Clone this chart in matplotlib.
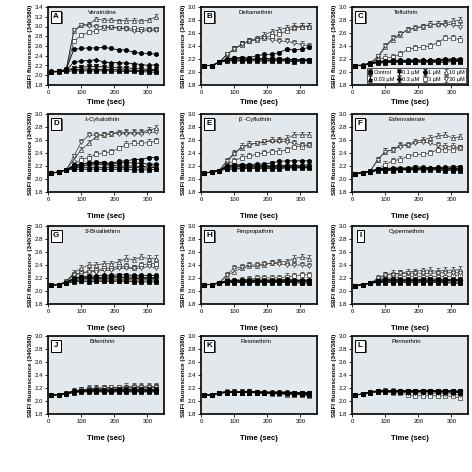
import numpy as np
import matplotlib
matplotlib.use("Agg")
from matplotlib import pyplot as plt

plt.rcParams['font.family'] = ['Liberation Sans Narrow', 'Liberation Sans', 'DejaVu Sans']

# time points (sec)
times = [10, 33, 55, 78, 100, 123, 145, 168, 191, 213, 236, 258, 281, 304, 326]

conc_labels = ["Control", "0.03 \u00b5M", "0.1 \u00b5M", "0.3 \u00b5M", "1 \u00b5M", "3 \u00b5M", "10 \u00b5M", "30 \u00b5M"]
markers = ["s", "^", "v", "D", "o", "s", "^", "v"]
filled = [True, True, True, True, True, False, False, False]

panel_letters = ["A", "B", "C", "D", "E", "F", "G", "H", "I", "J", "K", "L"]
panel_titles = ["Veratridine", "Deltamethrin", "Tefluthrin", "\u03bb-Cyhalothrin", "\u03b2 -Cyfluthrin",
                "Esfenvalerate", "$\\it{S}$-Bioallethrin", "Fenpropathrin", "Cypermethrin",
                "Bifenthrin", "Resmethrin", "Permethrin"]

# series order: Control, 0.03, 0.1, 0.3, 1, 3, 10, 30 uM
veratridine = [
    [2.06, 2.07, 2.08, 2.09, 2.09, 2.09, 2.09, 2.09, 2.09, 2.08, 2.08, 2.08, 2.07, 2.07, 2.06],
    [2.07, 2.08, 2.10, 2.12, 2.12, 2.13, 2.12, 2.12, 2.12, 2.11, 2.11, 2.10, 2.10, 2.10, 2.10],
    [2.07, 2.08, 2.10, 2.15, 2.16, 2.18, 2.18, 2.17, 2.16, 2.15, 2.15, 2.14, 2.13, 2.12, 2.12],
    [2.08, 2.08, 2.10, 2.27, 2.30, 2.30, 2.32, 2.27, 2.26, 2.26, 2.25, 2.24, 2.22, 2.20, 2.22],
    [2.08, 2.08, 2.12, 2.53, 2.55, 2.56, 2.56, 2.57, 2.55, 2.52, 2.52, 2.47, 2.45, 2.45, 2.43],
    [2.07, 2.08, 2.10, 2.70, 2.82, 2.88, 2.90, 2.97, 2.98, 2.97, 2.96, 2.96, 2.95, 2.95, 2.95],
    [2.07, 2.08, 2.12, 2.90, 3.03, 3.05, 3.15, 3.13, 3.13, 3.12, 3.12, 3.12, 3.11, 3.13, 3.20],
    [2.07, 2.08, 2.12, 2.92, 3.03, 3.02, 3.00, 3.00, 2.98, 2.97, 2.95, 2.90, 2.90, 2.92, 2.92],
]
deltamethrin = [
    [2.10, 2.10, 2.15, 2.17, 2.17, 2.17, 2.17, 2.17, 2.17, 2.17, 2.17, 2.17, 2.16, 2.17, 2.17],
    [2.10, 2.10, 2.15, 2.18, 2.18, 2.18, 2.18, 2.19, 2.18, 2.18, 2.18, 2.18, 2.18, 2.18, 2.18],
    [2.10, 2.10, 2.15, 2.19, 2.20, 2.20, 2.19, 2.20, 2.20, 2.20, 2.20, 2.19, 2.19, 2.18, 2.18],
    [2.10, 2.10, 2.15, 2.20, 2.21, 2.21, 2.20, 2.20, 2.21, 2.20, 2.20, 2.20, 2.19, 2.19, 2.19],
    [2.10, 2.10, 2.15, 2.20, 2.22, 2.22, 2.22, 2.25, 2.27, 2.27, 2.30, 2.35, 2.34, 2.35, 2.38],
    [2.10, 2.10, 2.15, 2.27, 2.35, 2.43, 2.47, 2.50, 2.53, 2.55, 2.58, 2.63, 2.67, 2.70, 2.70],
    [2.10, 2.10, 2.15, 2.27, 2.35, 2.42, 2.48, 2.52, 2.57, 2.62, 2.65, 2.68, 2.70, 2.70, 2.70],
    [2.10, 2.10, 2.15, 2.27, 2.35, 2.43, 2.48, 2.50, 2.52, 2.50, 2.48, 2.47, 2.45, 2.42, 2.40],
]
tefluthrin = [
    [2.10, 2.10, 2.13, 2.14, 2.14, 2.15, 2.15, 2.15, 2.15, 2.15, 2.15, 2.15, 2.15, 2.16, 2.16],
    [2.10, 2.10, 2.13, 2.15, 2.15, 2.16, 2.16, 2.16, 2.16, 2.17, 2.16, 2.17, 2.17, 2.17, 2.17],
    [2.10, 2.10, 2.13, 2.15, 2.16, 2.16, 2.17, 2.16, 2.17, 2.17, 2.17, 2.16, 2.18, 2.18, 2.18],
    [2.10, 2.10, 2.14, 2.16, 2.17, 2.17, 2.18, 2.17, 2.18, 2.18, 2.17, 2.18, 2.19, 2.19, 2.19],
    [2.10, 2.11, 2.14, 2.16, 2.17, 2.18, 2.18, 2.18, 2.19, 2.18, 2.18, 2.19, 2.20, 2.20, 2.20],
    [2.10, 2.10, 2.14, 2.20, 2.22, 2.23, 2.27, 2.35, 2.37, 2.38, 2.40, 2.45, 2.52, 2.52, 2.50],
    [2.10, 2.10, 2.14, 2.22, 2.38, 2.50, 2.57, 2.65, 2.67, 2.70, 2.73, 2.74, 2.75, 2.78, 2.80],
    [2.10, 2.10, 2.14, 2.24, 2.40, 2.52, 2.58, 2.65, 2.68, 2.70, 2.73, 2.73, 2.73, 2.73, 2.70],
]
cyhalothrin = [
    [2.09, 2.11, 2.14, 2.15, 2.15, 2.15, 2.15, 2.15, 2.15, 2.15, 2.15, 2.14, 2.14, 2.14, 2.15],
    [2.09, 2.11, 2.14, 2.17, 2.18, 2.18, 2.18, 2.18, 2.18, 2.18, 2.18, 2.18, 2.17, 2.17, 2.18],
    [2.09, 2.11, 2.14, 2.19, 2.20, 2.21, 2.22, 2.22, 2.21, 2.20, 2.20, 2.20, 2.19, 2.20, 2.20],
    [2.09, 2.11, 2.14, 2.20, 2.22, 2.24, 2.24, 2.25, 2.22, 2.25, 2.25, 2.25, 2.24, 2.23, 2.23],
    [2.09, 2.11, 2.14, 2.21, 2.23, 2.25, 2.26, 2.25, 2.24, 2.27, 2.28, 2.30, 2.30, 2.33, 2.33],
    [2.09, 2.11, 2.14, 2.22, 2.30, 2.33, 2.38, 2.40, 2.42, 2.47, 2.53, 2.55, 2.55, 2.56, 2.58],
    [2.09, 2.11, 2.14, 2.30, 2.45, 2.55, 2.65, 2.68, 2.70, 2.72, 2.72, 2.72, 2.72, 2.75, 2.78],
    [2.09, 2.11, 2.14, 2.35, 2.57, 2.67, 2.68, 2.68, 2.70, 2.70, 2.70, 2.70, 2.70, 2.72, 2.72],
]
cyfluthrin = [
    [2.09, 2.11, 2.13, 2.15, 2.15, 2.16, 2.16, 2.16, 2.16, 2.16, 2.16, 2.17, 2.17, 2.17, 2.17],
    [2.09, 2.11, 2.13, 2.17, 2.17, 2.17, 2.18, 2.18, 2.18, 2.18, 2.18, 2.18, 2.18, 2.18, 2.18],
    [2.09, 2.11, 2.13, 2.18, 2.19, 2.19, 2.19, 2.19, 2.19, 2.19, 2.19, 2.19, 2.19, 2.19, 2.19],
    [2.09, 2.11, 2.13, 2.20, 2.20, 2.21, 2.21, 2.20, 2.21, 2.20, 2.21, 2.21, 2.21, 2.21, 2.22],
    [2.09, 2.11, 2.13, 2.20, 2.22, 2.22, 2.22, 2.23, 2.23, 2.25, 2.27, 2.28, 2.28, 2.28, 2.28],
    [2.09, 2.11, 2.13, 2.22, 2.28, 2.33, 2.35, 2.38, 2.40, 2.42, 2.42, 2.45, 2.50, 2.50, 2.52],
    [2.09, 2.11, 2.13, 2.28, 2.40, 2.48, 2.53, 2.55, 2.57, 2.60, 2.60, 2.62, 2.68, 2.68, 2.68],
    [2.09, 2.11, 2.13, 2.27, 2.38, 2.50, 2.53, 2.55, 2.58, 2.58, 2.58, 2.57, 2.55, 2.52, 2.52],
]
esfenvalerate = [
    [2.08, 2.10, 2.11, 2.13, 2.13, 2.13, 2.14, 2.14, 2.14, 2.14, 2.14, 2.14, 2.13, 2.13, 2.13],
    [2.08, 2.10, 2.11, 2.14, 2.14, 2.14, 2.14, 2.15, 2.15, 2.15, 2.15, 2.15, 2.15, 2.15, 2.14],
    [2.08, 2.10, 2.11, 2.14, 2.15, 2.15, 2.15, 2.15, 2.16, 2.16, 2.16, 2.16, 2.16, 2.16, 2.16],
    [2.08, 2.10, 2.11, 2.15, 2.16, 2.16, 2.16, 2.16, 2.17, 2.17, 2.17, 2.17, 2.17, 2.17, 2.17],
    [2.08, 2.10, 2.12, 2.16, 2.16, 2.17, 2.17, 2.17, 2.19, 2.18, 2.17, 2.18, 2.18, 2.19, 2.19],
    [2.08, 2.10, 2.12, 2.15, 2.22, 2.28, 2.30, 2.35, 2.38, 2.38, 2.40, 2.45, 2.45, 2.45, 2.47],
    [2.08, 2.10, 2.12, 2.30, 2.42, 2.45, 2.52, 2.53, 2.58, 2.60, 2.63, 2.66, 2.68, 2.63, 2.65],
    [2.08, 2.10, 2.12, 2.30, 2.42, 2.45, 2.50, 2.52, 2.55, 2.57, 2.55, 2.52, 2.50, 2.50, 2.48],
]
bioallethrin = [
    [2.09, 2.10, 2.12, 2.14, 2.15, 2.14, 2.15, 2.15, 2.15, 2.15, 2.15, 2.14, 2.14, 2.14, 2.14],
    [2.09, 2.10, 2.13, 2.16, 2.17, 2.17, 2.17, 2.17, 2.17, 2.17, 2.17, 2.17, 2.17, 2.17, 2.17],
    [2.09, 2.10, 2.13, 2.18, 2.19, 2.19, 2.19, 2.19, 2.20, 2.20, 2.20, 2.19, 2.19, 2.19, 2.19],
    [2.09, 2.10, 2.13, 2.19, 2.21, 2.21, 2.21, 2.21, 2.22, 2.22, 2.21, 2.22, 2.21, 2.21, 2.21],
    [2.09, 2.10, 2.13, 2.20, 2.22, 2.23, 2.23, 2.24, 2.24, 2.25, 2.25, 2.24, 2.24, 2.24, 2.24],
    [2.09, 2.10, 2.15, 2.25, 2.28, 2.30, 2.32, 2.35, 2.35, 2.38, 2.38, 2.35, 2.40, 2.42, 2.42],
    [2.09, 2.10, 2.15, 2.28, 2.35, 2.40, 2.40, 2.42, 2.42, 2.45, 2.50, 2.48, 2.52, 2.50, 2.50],
    [2.09, 2.10, 2.14, 2.25, 2.27, 2.30, 2.30, 2.32, 2.32, 2.35, 2.35, 2.35, 2.35, 2.38, 2.35],
]
fenpropathrin = [
    [2.10, 2.10, 2.12, 2.13, 2.13, 2.13, 2.13, 2.13, 2.13, 2.13, 2.13, 2.13, 2.13, 2.12, 2.12],
    [2.10, 2.10, 2.12, 2.14, 2.14, 2.14, 2.14, 2.14, 2.14, 2.14, 2.15, 2.14, 2.14, 2.14, 2.14],
    [2.10, 2.10, 2.12, 2.15, 2.15, 2.15, 2.15, 2.15, 2.15, 2.15, 2.15, 2.15, 2.15, 2.15, 2.15],
    [2.10, 2.10, 2.13, 2.15, 2.16, 2.16, 2.16, 2.16, 2.16, 2.16, 2.16, 2.16, 2.16, 2.16, 2.16],
    [2.10, 2.10, 2.13, 2.16, 2.17, 2.17, 2.17, 2.17, 2.17, 2.17, 2.17, 2.18, 2.17, 2.17, 2.17],
    [2.10, 2.10, 2.13, 2.15, 2.15, 2.17, 2.18, 2.20, 2.20, 2.20, 2.20, 2.22, 2.23, 2.25, 2.25],
    [2.10, 2.10, 2.13, 2.23, 2.30, 2.35, 2.38, 2.38, 2.40, 2.43, 2.45, 2.45, 2.50, 2.52, 2.50],
    [2.10, 2.10, 2.13, 2.25, 2.35, 2.37, 2.40, 2.40, 2.42, 2.43, 2.42, 2.40, 2.40, 2.40, 2.38],
]
cypermethrin = [
    [2.08, 2.10, 2.12, 2.13, 2.13, 2.13, 2.13, 2.13, 2.13, 2.13, 2.13, 2.13, 2.13, 2.12, 2.12],
    [2.08, 2.10, 2.12, 2.14, 2.15, 2.15, 2.15, 2.15, 2.15, 2.15, 2.15, 2.15, 2.14, 2.14, 2.14],
    [2.08, 2.10, 2.12, 2.15, 2.16, 2.16, 2.16, 2.16, 2.16, 2.16, 2.16, 2.16, 2.16, 2.16, 2.16],
    [2.08, 2.10, 2.12, 2.16, 2.17, 2.17, 2.17, 2.17, 2.17, 2.17, 2.17, 2.17, 2.17, 2.17, 2.17],
    [2.08, 2.10, 2.12, 2.16, 2.18, 2.18, 2.18, 2.18, 2.18, 2.18, 2.19, 2.18, 2.18, 2.18, 2.18],
    [2.08, 2.10, 2.12, 2.17, 2.20, 2.20, 2.22, 2.22, 2.22, 2.22, 2.22, 2.22, 2.22, 2.23, 2.25],
    [2.08, 2.10, 2.12, 2.18, 2.25, 2.27, 2.27, 2.30, 2.30, 2.32, 2.32, 2.30, 2.32, 2.32, 2.33],
    [2.08, 2.10, 2.12, 2.20, 2.25, 2.25, 2.27, 2.27, 2.28, 2.27, 2.27, 2.28, 2.28, 2.28, 2.28],
]
bifenthrin = [
    [2.09, 2.10, 2.11, 2.13, 2.14, 2.14, 2.14, 2.14, 2.14, 2.14, 2.14, 2.14, 2.14, 2.14, 2.14],
    [2.09, 2.10, 2.11, 2.14, 2.15, 2.15, 2.15, 2.15, 2.15, 2.15, 2.15, 2.15, 2.15, 2.15, 2.15],
    [2.09, 2.10, 2.11, 2.14, 2.15, 2.16, 2.16, 2.16, 2.16, 2.16, 2.16, 2.16, 2.16, 2.16, 2.16],
    [2.09, 2.10, 2.11, 2.15, 2.16, 2.16, 2.17, 2.17, 2.17, 2.17, 2.17, 2.17, 2.17, 2.17, 2.17],
    [2.09, 2.10, 2.12, 2.15, 2.16, 2.17, 2.17, 2.17, 2.17, 2.18, 2.18, 2.18, 2.18, 2.18, 2.18],
    [2.09, 2.10, 2.12, 2.15, 2.16, 2.17, 2.18, 2.19, 2.19, 2.19, 2.20, 2.20, 2.20, 2.20, 2.21],
    [2.09, 2.10, 2.12, 2.16, 2.17, 2.18, 2.20, 2.20, 2.21, 2.21, 2.22, 2.22, 2.22, 2.23, 2.22],
    [2.09, 2.10, 2.12, 2.16, 2.17, 2.19, 2.19, 2.20, 2.21, 2.21, 2.20, 2.21, 2.21, 2.21, 2.21],
]
resmethrin = [
    [2.10, 2.09, 2.12, 2.13, 2.13, 2.13, 2.13, 2.13, 2.12, 2.12, 2.12, 2.12, 2.11, 2.11, 2.10],
    [2.10, 2.09, 2.12, 2.13, 2.13, 2.13, 2.13, 2.13, 2.13, 2.12, 2.12, 2.12, 2.12, 2.11, 2.11],
    [2.10, 2.09, 2.13, 2.14, 2.14, 2.14, 2.14, 2.14, 2.13, 2.13, 2.13, 2.13, 2.12, 2.12, 2.12],
    [2.10, 2.09, 2.13, 2.14, 2.14, 2.14, 2.15, 2.14, 2.14, 2.13, 2.13, 2.13, 2.13, 2.12, 2.12],
    [2.10, 2.09, 2.13, 2.14, 2.14, 2.14, 2.15, 2.14, 2.14, 2.14, 2.14, 2.14, 2.13, 2.13, 2.13],
    [2.10, 2.09, 2.13, 2.13, 2.13, 2.13, 2.13, 2.12, 2.12, 2.11, 2.11, 2.10, 2.10, 2.09, 2.08],
    [2.10, 2.09, 2.13, 2.14, 2.14, 2.14, 2.14, 2.13, 2.13, 2.12, 2.12, 2.11, 2.10, 2.10, 2.09],
    [2.10, 2.09, 2.13, 2.13, 2.13, 2.13, 2.14, 2.13, 2.12, 2.12, 2.11, 2.11, 2.10, 2.10, 2.09],
]
permethrin = [
    [2.09, 2.11, 2.13, 2.14, 2.14, 2.14, 2.14, 2.14, 2.14, 2.14, 2.14, 2.14, 2.14, 2.14, 2.13],
    [2.09, 2.11, 2.13, 2.15, 2.15, 2.15, 2.15, 2.15, 2.15, 2.15, 2.15, 2.15, 2.15, 2.14, 2.14],
    [2.09, 2.11, 2.14, 2.15, 2.15, 2.15, 2.15, 2.15, 2.15, 2.15, 2.15, 2.15, 2.15, 2.15, 2.15],
    [2.09, 2.11, 2.14, 2.15, 2.16, 2.15, 2.15, 2.16, 2.16, 2.16, 2.16, 2.15, 2.15, 2.15, 2.15],
    [2.09, 2.11, 2.14, 2.16, 2.16, 2.16, 2.16, 2.16, 2.16, 2.16, 2.16, 2.16, 2.16, 2.16, 2.15],
    [2.09, 2.11, 2.13, 2.14, 2.14, 2.13, 2.12, 2.10, 2.08, 2.08, 2.08, 2.08, 2.08, 2.07, 2.05],
    [2.09, 2.11, 2.13, 2.15, 2.15, 2.15, 2.14, 2.14, 2.14, 2.15, 2.14, 2.14, 2.13, 2.13, 2.13],
    [2.09, 2.11, 2.13, 2.15, 2.15, 2.14, 2.14, 2.13, 2.13, 2.12, 2.12, 2.12, 2.11, 2.11, 2.10],
]

# error bar size (upper) for open-symbol series, and for filled series
err_open = [0.02, 0.01, 0.02, 0.04, 0.05, 0.05, 0.05, 0.04, 0.04, 0.04, 0.05, 0.05, 0.05, 0.05, 0.05]
err_filled = [0.01, 0.01, 0.01, 0.02, 0.02, 0.02, 0.02, 0.02, 0.02, 0.02, 0.02, 0.02, 0.02, 0.02, 0.02]

panels = [veratridine, deltamethrin, tefluthrin, cyhalothrin, cyfluthrin, esfenvalerate,
          bioallethrin, fenpropathrin, cypermethrin, bifenthrin, resmethrin, permethrin]

fig = plt.figure(figsize=(4.72, 4.72), dpi=100)

lefts = [48, 201, 352]
tops = [7, 114, 226, 336]
W, H = 116, 78

for idx, series in enumerate(panels):
    row, col = divmod(idx, 3)
    ax = fig.add_axes([lefts[col] / 472, 1 - (tops[row] + H) / 472, W / 472, H / 472])
    ax.set_facecolor('#e2e8ec')

    for k, ys in enumerate(series):
        if filled[k]:
            ax.errorbar(times, ys, yerr=err_filled, color='black', lw=0.6, marker=markers[k],
                        ms=3.0 if markers[k] != 'D' else 2.5, mfc='black', mec='black', mew=0.5,
                        elinewidth=0.5, capsize=1.2, label=conc_labels[k], zorder=3)
        else:
            ax.errorbar(times, ys, yerr=[np.zeros(len(ys)), err_open], color='#333333', lw=0.5,
                        marker=markers[k], ms=3.0, mfc='white', mec='#333333', mew=0.5,
                        elinewidth=0.5, capsize=1.5, label=conc_labels[k], zorder=2)

    ax.set_xlim(0, 350)
    if idx == 0:
        ax.set_ylim(1.8, 3.4)
        ax.set_yticks(np.arange(1.8, 3.41, 0.2))
    else:
        ax.set_ylim(1.8, 3.0)
        ax.set_yticks(np.arange(1.8, 3.01, 0.2))
    ax.set_xticks([0, 100, 200, 300])
    ax.yaxis.set_major_formatter(matplotlib.ticker.FormatStrFormatter('%.1f'))
    ax.tick_params(labelsize=4.3, length=2, width=0.6, pad=1.5)
    for s in ax.spines.values():
        s.set_linewidth(1.2)

    ax.set_xlabel("Time (sec)", fontsize=5.6, fontweight='bold', labelpad=3 if row == 0 else 8)
    ax.set_ylabel("SBFI fluorescence (340/380)", fontsize=4.5, fontweight='bold', labelpad=1.5)

    ax.text(0.47, 0.93, panel_titles[idx], transform=ax.transAxes, fontsize=4.3,
            ha='center', va='center')
    # panel letter with shadow
    ax.text(0.075, 0.865, panel_letters[idx], transform=ax.transAxes, fontsize=5.8,
            fontweight='bold', color='black', ha='center', va='center',
            bbox=dict(boxstyle='square,pad=0.3', fc='#555555', ec='#555555', lw=0.6), zorder=4)
    ax.text(0.07, 0.875, panel_letters[idx], transform=ax.transAxes, fontsize=5.8,
            fontweight='bold', color='black', ha='center', va='center',
            bbox=dict(boxstyle='square,pad=0.3', fc='white', ec='black', lw=0.7), zorder=5)

    if idx == 2:
        leg = ax.legend(loc='lower right', ncol=4, fontsize=4.0, frameon=True,
                        handlelength=0.6, handletextpad=0.3, columnspacing=0.6,
                        borderpad=0.3, labelspacing=0.3, borderaxespad=0.3, fancybox=False)
        leg.get_frame().set_edgecolor('black')
        leg.get_frame().set_linewidth(0.6)

fig.savefig("out.png", dpi=100)
